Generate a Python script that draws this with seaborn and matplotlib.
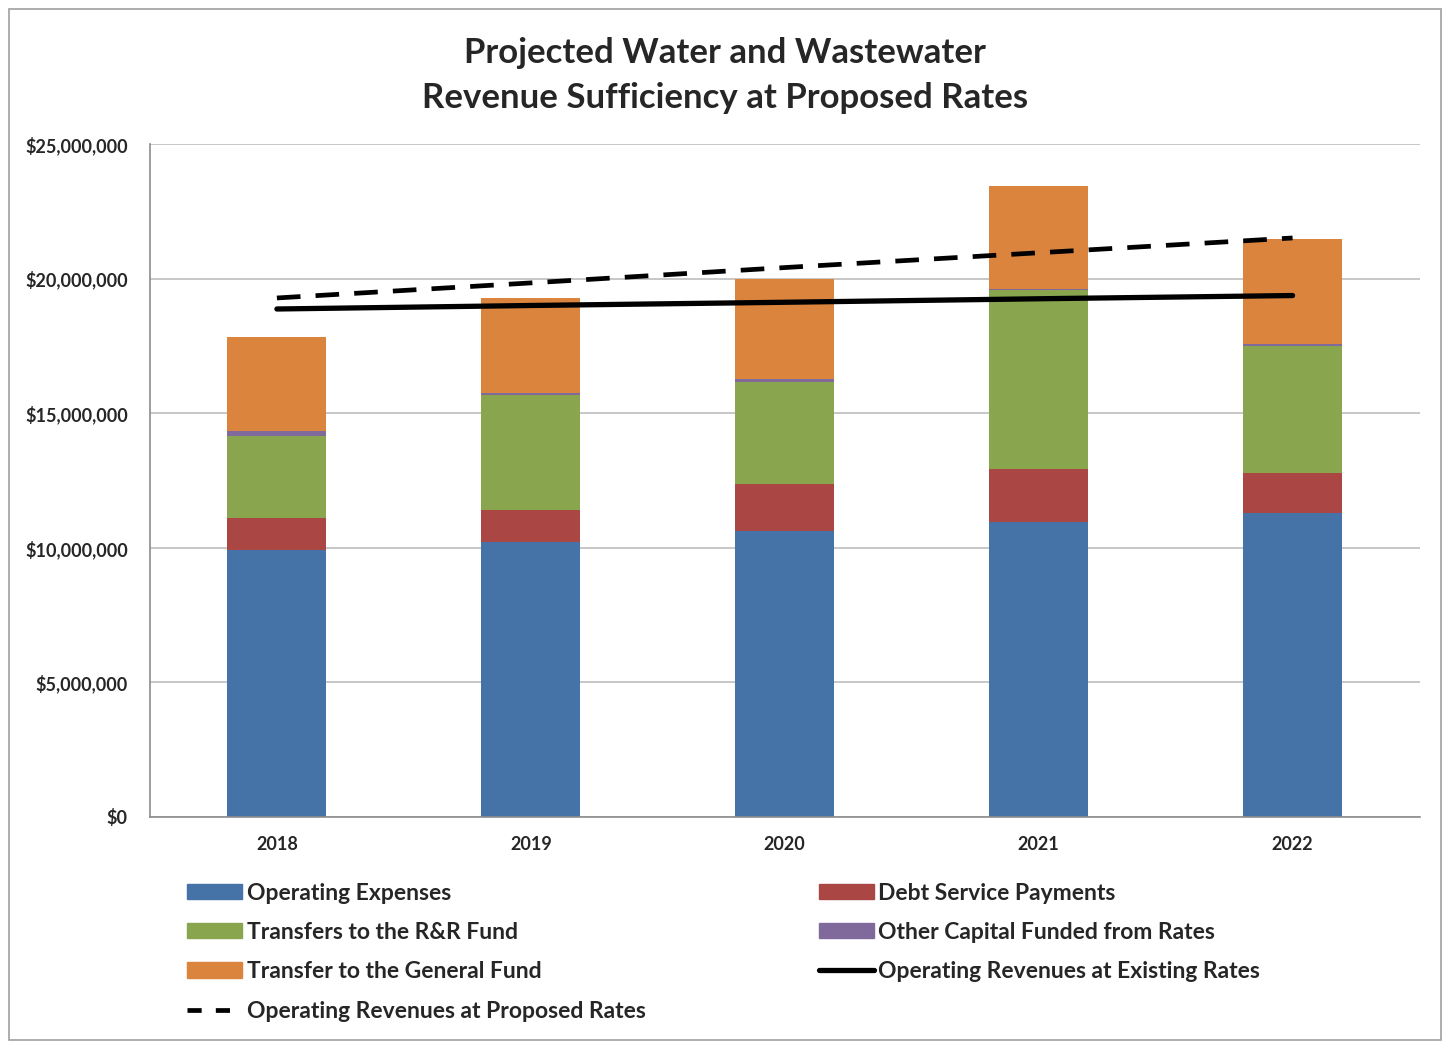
import numpy as np
import pandas as pd
import matplotlib.pyplot as plt
import matplotlib.patches as mpatches
import matplotlib.lines as mlines
import matplotlib.ticker as mticker
import seaborn as sns

# values in $ millions
years = ["2018", "2019", "2020", "2021", "2022"]
operating_expenses = [9.94, 10.21, 10.64, 10.97, 11.30]
debt_service = [1.18, 1.21, 1.74, 1.97, 1.49]
rr_transfers = [3.03, 4.28, 3.80, 6.63, 4.70]
other_capital = [0.18, 0.05, 0.08, 0.07, 0.10]
general_fund = [3.51, 3.54, 3.74, 3.82, 3.91]
revenue_existing = [18.88, 19.01, 19.13, 19.26, 19.38]
revenue_proposed = [19.29, 19.85, 20.42, 20.97, 21.52]

series = [
    ("Operating Expenses", operating_expenses, "#4572A7"),
    ("Debt Service Payments", debt_service, "#AA4643"),
    ("Transfers to the R&R Fund", rr_transfers, "#89A54E"),
    ("Other Capital Funded from Rates", other_capital, "#80699B"),
    ("Transfer to the General Fund", general_fund, "#DB843D"),
]

df = pd.DataFrame({name: np.array(vals) * 1e6 for name, vals, _ in series}, index=years)
cum = df.cumsum(axis=1)

sns.set_style("white")
plt.rcParams["font.family"] = ["Lato", "DejaVu Sans"]
plt.rcParams["font.weight"] = "bold"

fig = plt.figure(figsize=(14.5, 10.46), dpi=100)
ax = fig.add_axes([0.1034, 0.219, 0.8756, 0.643])

# stacked bars: draw cumulative totals from the top layer down
for name, _, color in reversed(series):
    sns.barplot(x=years, y=cum[name].values, color=color, width=0.39,
                saturation=1, linewidth=0, ax=ax, zorder=2)

pos = np.arange(len(years))
ax.plot(pos, np.array(revenue_existing) * 1e6, color="black", lw=3.8,
        solid_capstyle="round", zorder=3)
ax.plot(pos, np.array(revenue_proposed) * 1e6, color="black", lw=3.4,
        dashes=(5, 3.2), zorder=3)

ax.set_xlim(-0.5, len(years) - 0.5)
ax.set_ylim(0, 25e6)
ax.yaxis.set_major_locator(mticker.MultipleLocator(5e6))
ax.yaxis.set_major_formatter(mticker.FuncFormatter(lambda v, p: f"${v:,.0f}"))
ax.grid(axis="y", color="#BDBDBD", lw=1.2, zorder=0)
ax.set_axisbelow(True)

for side in ["top", "right"]:
    ax.spines[side].set_visible(False)
for side in ["left", "bottom"]:
    ax.spines[side].set_color("#8C8C8C")
    ax.spines[side].set_linewidth(1.2)

ax.set_xticks(pos)
ax.set_xticklabels(years)
ax.set_xticks(np.arange(-0.5, len(years)), minor=True)
ax.tick_params(axis="x", which="major", length=0, pad=14, labelsize=13)
ax.tick_params(axis="x", which="minor", length=6, color="#8C8C8C", direction="out")
ax.tick_params(axis="y", length=6, color="#8C8C8C", direction="out", pad=10, labelsize=13)
for lab in ax.get_xticklabels() + ax.get_yticklabels():
    lab.set_fontweight("bold")
ax.set_xlabel("")
ax.set_ylabel("")

fig.suptitle("Projected Water and Wastewater\nRevenue Sufficiency at Proposed Rates",
             x=0.5, y=0.965, fontsize=25, fontweight="bold", linespacing=1.5)

handles = {name: mpatches.Patch(color=color, label=name) for name, _, color in series}
h_exist = mlines.Line2D([], [], color="black", lw=3.8, label="Operating Revenues at Existing Rates")
h_prop = mlines.Line2D([], [], color="black", lw=3.4, dashes=(3, 3),
                       label="Operating Revenues at Proposed Rates")
order = [handles["Operating Expenses"], handles["Transfers to the R&R Fund"],
         handles["Transfer to the General Fund"], h_prop,
         handles["Debt Service Payments"], handles["Other Capital Funded from Rates"],
         h_exist]
fig.legend(handles=order, loc="upper left", bbox_to_anchor=(0.115, 0.176), ncol=2,
           frameon=False, fontsize=16.5, handlelength=2.4, handleheight=0.65,
           handletextpad=0.2, labelspacing=0.8, columnspacing=7.55)

fig.add_artist(mpatches.Rectangle((0.006, 0.006), 0.988, 0.985, transform=fig.transFigure,
                                  fill=False, edgecolor="#A0A0A0", lw=1.2))

fig.savefig("out.png", dpi=100)
